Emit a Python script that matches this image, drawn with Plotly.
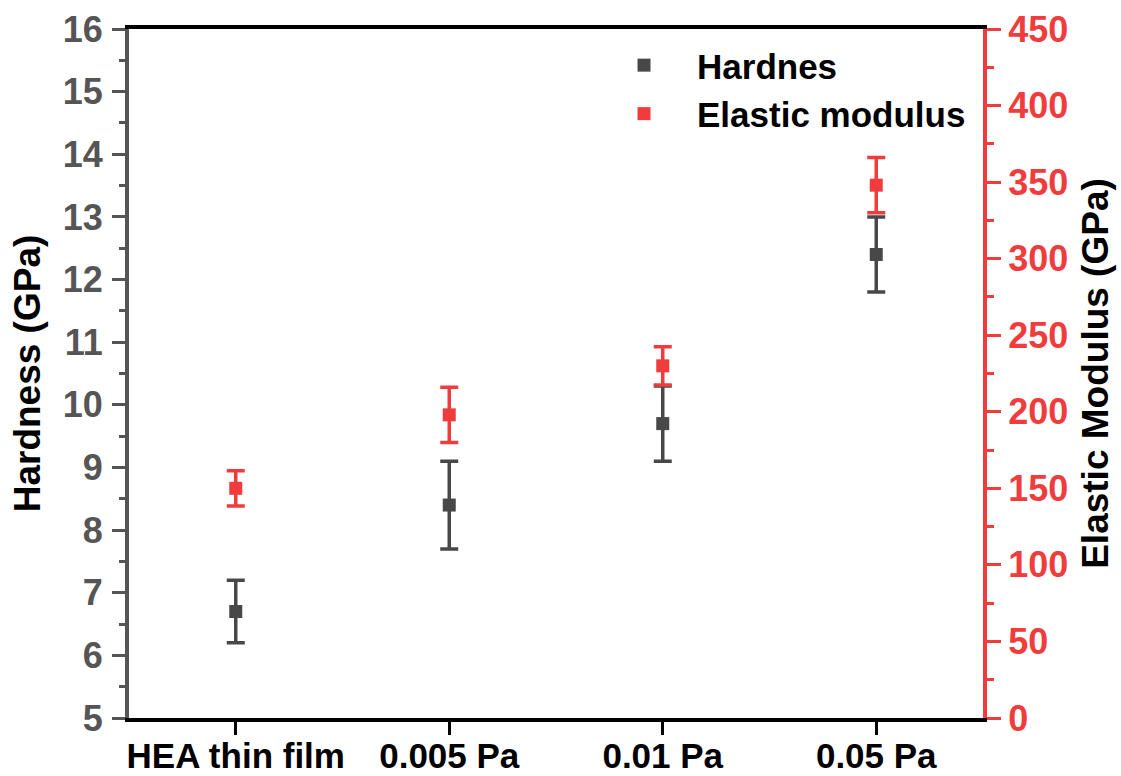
import plotly.graph_objects as go

categories = ["HEA thin film", "0.005 Pa", "0.01 Pa", "0.05 Pa"]
hardness = [6.7, 8.4, 9.7, 12.4]
hardness_err = [0.5, 0.7, 0.6, 0.6]
modulus = [150, 198, 230, 348]
modulus_err = [11.5, 18, 12.5, 18]

DARK = "#484848"
RED = "#F03C3C"
GRAY = "#555555"
FONT = "Liberation Sans"

fig = go.Figure()
fig.add_trace(go.Scatter(
    x=categories, y=hardness, name="Hardnes", mode="markers",
    marker=dict(symbol="square", size=13, color=DARK),
    error_y=dict(type="data", array=hardness_err, visible=True,
                 color=DARK, thickness=3.5, width=9),
    yaxis="y",
))
fig.add_trace(go.Scatter(
    x=categories, y=modulus, name="Elastic modulus", mode="markers",
    marker=dict(symbol="square", size=13, color=RED),
    error_y=dict(type="data", array=modulus_err, visible=True,
                 color=RED, thickness=3.5, width=9),
    yaxis="y2",
))

fig.update_layout(
    width=1121, height=776,
    margin=dict(l=129, r=138, t=29, b=58, autoexpand=False),
    paper_bgcolor="white", plot_bgcolor="white",
    font=dict(family=FONT, size=36, color="black", weight="bold"),
    showlegend=True,
    legend=dict(
        x=0.541, y=0.99, xanchor="left", yanchor="top",
        bgcolor="rgba(0,0,0,0)", itemwidth=96,
        font=dict(family=FONT, size=35, color="black", weight="bold"),
        tracegroupgap=0,
    ),
    xaxis=dict(
        type="category", range=[-0.5, 3.5], automargin=False,
        showline=True, linecolor="black", linewidth=4, mirror=True,
        ticks="outside", ticklen=13, tickwidth=3, tickcolor="black",
        tickfont=dict(family=FONT, size=35, color="black", weight="bold"),
        showgrid=False, zeroline=False, ticklabelstandoff=-9,
    ),
    yaxis=dict(
        range=[5, 16], dtick=1, tick0=5, automargin=False,
        showline=True, linecolor=GRAY, linewidth=4,
        ticks="outside", ticklen=13, tickwidth=3, tickcolor=GRAY,
        minor=dict(dtick=0.5, ticks="outside", ticklen=6, tickwidth=3, tickcolor=GRAY, showgrid=False),
        tickfont=dict(family=FONT, size=36, color=GRAY, weight="bold"),
        title=dict(text="Hardness (GPa)", standoff=12,
                   font=dict(family=FONT, size=37, color="black", weight="bold")),
        showgrid=False, zeroline=False, ticklabelstandoff=2,
    ),
    yaxis2=dict(
        range=[0, 450], dtick=50, tick0=0, automargin=False,
        overlaying="y", side="right", anchor="x",
        showline=True, linecolor=RED, linewidth=4,
        ticks="outside", ticklen=14, tickwidth=3, tickcolor=RED,
        minor=dict(dtick=25, ticks="outside", ticklen=7, tickwidth=3, tickcolor=RED, showgrid=False),
        tickfont=dict(family=FONT, size=36, color=RED, weight="bold"),
        title=dict(text="Elastic Modulus (GPa)", standoff=16,
                   font=dict(family=FONT, size=37, color="black", weight="bold")),
        showgrid=False, zeroline=False, ticklabelstandoff=0,
    ),
)

fig.write_html("out.html")
